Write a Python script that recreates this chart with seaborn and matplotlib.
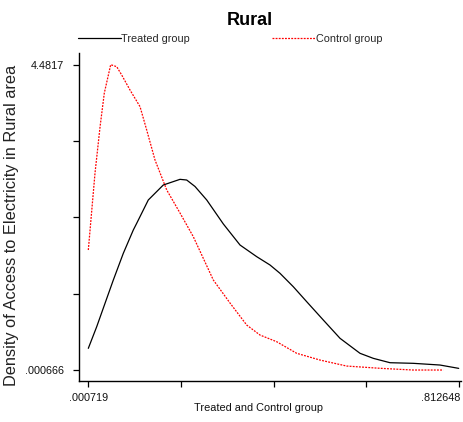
import matplotlib
matplotlib.use("Agg")
import matplotlib.pyplot as plt
import matplotlib.transforms as mtransforms
import seaborn as sns
import pandas as pd
from matplotlib.ticker import FixedLocator, FixedFormatter

# Kernel density estimates of rural electricity access
treated_x = [0.000719, 0.0191, 0.0373, 0.0555, 0.0774, 0.0993, 0.1068, 0.1322,
             0.1651, 0.2017, 0.2164, 0.2346, 0.2603, 0.2967, 0.3333, 0.3699,
             0.3990, 0.4209, 0.4501, 0.4795, 0.5159, 0.5525, 0.5963, 0.6255,
             0.6621, 0.7131, 0.7716, 0.812648]
treated_y = [0.319, 0.636, 0.979, 1.321, 1.713, 2.055, 2.154, 2.496,
             2.716, 2.799, 2.789, 2.694, 2.496, 2.144, 1.835, 1.664,
             1.542, 1.420, 1.223, 1.003, 0.734, 0.466, 0.246, 0.172,
             0.108, 0.099, 0.074, 0.025]

control_x = [0.000719, 0.0154, 0.0264, 0.0358, 0.0498, 0.0630, 0.0739, 0.0921,
             0.1141, 0.1287, 0.1469, 0.1726, 0.2017, 0.2309, 0.2747, 0.3113,
             0.3479, 0.3771, 0.4137, 0.4575, 0.5086, 0.5671, 0.6401, 0.7125,
             0.7789]
control_y = [1.762, 2.891, 3.567, 4.066, 4.4817, 4.452, 4.330, 4.110,
             3.865, 3.523, 3.083, 2.643, 2.305, 1.957, 1.322, 0.984,
             0.661, 0.514, 0.416, 0.246, 0.147, 0.059, 0.026, 0.000666,
             0.000666]

x_ticks = [0.000719, 0.203701, 0.406684, 0.609666, 0.812648]
x_tick_labels = [".000719", "", "", "", ".812648"]
y_ticks = [0.000666, 1.120925, 2.241183, 3.361442, 4.4817]
y_tick_labels = [".000666", "", "", "", "4.4817"]

series_names = ["Treated group", "Control group"]

sns.set_style("white")
plt.rcParams["font.family"] = ["Liberation Sans", "DejaVu Sans"]

fig = plt.figure(figsize=(4.64, 4.22), dpi=100)
ax = fig.add_axes([79 / 464, 1 - 380.7 / 422, 382 / 464, 327.7 / 422])

treated = pd.DataFrame({"x": treated_x, "y": treated_y})
control = pd.DataFrame({"x": control_x, "y": control_y})

sns.lineplot(data=treated, x="x", y="y", ax=ax, color="black", lw=0.9,
             label=series_names[0], sort=False)
sns.lineplot(data=control, x="x", y="y", ax=ax, color="#ff0000", lw=0.9,
             linestyle=(0, (1.5, 1.0)), label=series_names[1], sort=False)

ax.set_xlim(-0.0197, 0.8177)
ax.set_ylim(-0.156, 4.653)

for side in ("top", "right"):
    ax.spines[side].set_visible(False)
for side in ("left", "bottom"):
    ax.spines[side].set_linewidth(1.0)
    ax.spines[side].set_color("black")

ax.xaxis.set_major_locator(FixedLocator(x_ticks))
ax.xaxis.set_major_formatter(FixedFormatter(x_tick_labels))
ax.yaxis.set_major_locator(FixedLocator(y_ticks))
ax.yaxis.set_major_formatter(FixedFormatter(y_tick_labels))
ax.tick_params(axis="both", which="major", direction="out", length=4.3,
               width=0.9, color="black", labelcolor="#111111", labelsize=7.8,
               bottom=True, left=True)
ax.tick_params(axis="y", pad=6.5)
ax.tick_params(axis="x", pad=4.5)

# keep the last x tick label inside the figure: right-align it on its tick
last_tick = ax.xaxis.get_major_ticks()[-1]
last_tick.label1.set_horizontalalignment("right")
last_tick.label1.set_transform(
    last_tick.label1.get_transform()
    + mtransforms.ScaledTranslation(1.5 / 100, 0, fig.dpi_scale_trans))

ax.set_xlabel("Treated and Control group", fontsize=7.9, color="#111111",
              va="top")
ax.xaxis.set_label_coords(0.469, -0.068)
ax.set_ylabel("Density of Access to Electricity in Rural area",
              fontsize=11.8, color="#222222")
ax.yaxis.set_label_coords(-0.158, 0.4736)

ax.set_title("Rural", fontsize=13, fontweight="bold", color="black",
             x=0.4476, y=1.0854, va="baseline", pad=0)

handles, labels = ax.get_legend_handles_labels()
ax.legend_.remove()
fig.legend(handles, labels, loc="center left", ncol=2,
           bbox_to_anchor=(78 / 464, 1 - 39 / 422), frameon=False,
           borderpad=0, borderaxespad=0, handlelength=3.95, handletextpad=0.05,
           columnspacing=7.6, prop={"size": 7.8})

fig.savefig("out.png", dpi=100)
